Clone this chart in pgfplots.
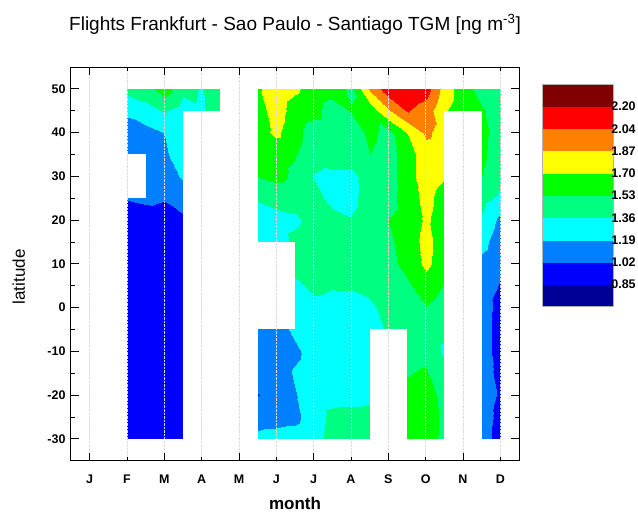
\documentclass[border=0pt]{standalone}
\usepackage{fontspec}
\setmainfont{Liberation Sans}
\usepackage{pgfplots}
\pgfplotsset{compat=1.18}
\pgfplotsset{colormap={tgm}{rgb255=(0,0,150) rgb255=(0,0,255) rgb255=(0,128,255) rgb255=(0,255,255) rgb255=(0,255,128) rgb255=(0,255,0) rgb255=(255,255,0) rgb255=(255,128,0) rgb255=(255,0,0) rgb255=(128,0,0)}}
\begin{document}
\begin{tikzpicture}
\useasboundingbox (-71bp,-52.3bp) rectangle (567bp,460.7bp);
\begin{axis}[
  at={(0,0)}, anchor=south west,
  scale only axis, width=448bp, height=393.7bp,
  xmin=0.5, xmax=12.5, ymin=-35, ymax=55,
  axis on top,
  colormap name=tgm, colormap access=piecewise constant,
  point meta min=0.68, point meta max=2.38,
  xtick={1,3,5,7,9,11}, xticklabels={J,M,M,J,S,N},
  extra x ticks={2,4,6,8,10,12}, extra x tick labels={F,A,J,A,O,D},
  extra x tick style={major tick length=4bp, xmajorgrids=true},
  xmajorgrids=true,
  ytick={-30,-20,-10,0,10,20,30,40,50},
  yticklabels={{-30},{-20},{-10},0,10,20,30,40,50},
  minor ytick={-25,-15,-5,5,15,25,35,45},
  tick align=inside,
  major tick length=8bp, minor tick length=4.5bp,
  tick style={black, line width=0.8bp},
  axis line style={black, line width=1bp},
  grid style={densely dotted, line width=0.5bp, black!14},
  tick label style={font=\bfseries\fontsize{12.5bp}{14bp}\selectfont},
  xticklabel style={yshift=-10.5bp},
  yticklabel style={xshift=-2bp},
  title={Flights Frankfurt - Sao Paulo - Santiago TGM [ng m\textsuperscript{-3}]},
  title style={at={(axis description cs:0.5,1.0774)}, anchor=base, inner sep=0pt, font=\fontsize{19bp}{22bp}\selectfont},
  xlabel={month},
  xlabel style={at={(axis description cs:0.5,-0.1240)}, anchor=base, inner sep=0pt, font=\bfseries\fontsize{17bp}{20bp}\selectfont},
  ylabel={latitude},
  ylabel style={at={(axis description cs:-0.1027,0.467)}, anchor=base, inner sep=0pt, font=\fontsize{17bp}{20bp}\selectfont},
  colorbar,
  colorbar style={
    at={(parent axis.north east)}, anchor=north west,
    xshift=14.3bp, yshift=-17.3bp,
    scale only axis, width=71bp, height=222.4bp,
    ytick={0.85,1.02,1.19,1.36,1.53,1.70,1.87,2.04,2.21},
    yticklabels={0.85,1.02,1.19,1.36,1.53,1.70,1.87,2.04,2.20},
    major tick length=0pt,
    axis line style={black!30, line width=0.5bp},
    yticklabel style={font=\bfseries\fontsize{12.5bp}{14bp}\selectfont, xshift=-5bp},
  },
]
\addplot[surf, shader=interp, mesh/cols=21, point meta=explicit] coordinates {
(2,-30) [0.93] (2.5,-30) [0.93] (3,-30) [0.93] (3.5,-30) [0.93] (4,-30) [1.00] (4.5,-30) [1.10] (5,-30) [1.10] (5.5,-30) [1.22] (6,-30) [1.24] (6.5,-30) [1.26] (7,-30) [1.30] (7.5,-30) [1.42] (8,-30) [1.44] (8.5,-30) [1.44] (9,-30) [1.50] (9.5,-30) [1.60] (10,-30) [1.58] (10.5,-30) [1.50] (11,-30) [1.30] (11.5,-30) [1.10] (12,-30) [0.95]

(2,-25) [0.93] (2.5,-25) [0.93] (3,-25) [0.93] (3.5,-25) [0.93] (4,-25) [1.00] (4.5,-25) [1.10] (5,-25) [1.10] (5.5,-25) [1.14] (6,-25) [1.14] (6.5,-25) [1.15] (7,-25) [1.28] (7.5,-25) [1.40] (8,-25) [1.42] (8.5,-25) [1.42] (9,-25) [1.50] (9.5,-25) [1.60] (10,-25) [1.60] (10.5,-25) [1.50] (11,-25) [1.30] (11.5,-25) [1.10] (12,-25) [0.97]

(2,-20) [0.93] (2.5,-20) [0.93] (3,-20) [0.93] (3.5,-20) [0.93] (4,-20) [1.00] (4.5,-20) [1.10] (5,-20) [1.10] (5.5,-20) [1.015] (6,-20) [1.10] (6.5,-20) [1.18] (7,-20) [1.28] (7.5,-20) [1.30] (8,-20) [1.30] (8.5,-20) [1.32] (9,-20) [1.50] (9.5,-20) [1.58] (10,-20) [1.60] (10.5,-20) [1.48] (11,-20) [1.30] (11.5,-20) [1.10] (12,-20) [1.00]

(2,-15) [0.93] (2.5,-15) [0.93] (3,-15) [0.93] (3.5,-15) [0.93] (4,-15) [1.00] (4.5,-15) [1.10] (5,-15) [1.10] (5.5,-15) [1.08] (6,-15) [1.10] (6.5,-15) [1.21] (7,-15) [1.28] (7.5,-15) [1.28] (8,-15) [1.28] (8.5,-15) [1.28] (9,-15) [1.45] (9.5,-15) [1.52] (10,-15) [1.55] (10.5,-15) [1.40] (11,-15) [1.30] (11.5,-15) [1.10] (12,-15) [0.97]

(2,-10) [0.93] (2.5,-10) [0.93] (3,-10) [0.93] (3.5,-10) [0.93] (4,-10) [1.00] (4.5,-10) [1.10] (5,-10) [1.10] (5.5,-10) [1.10] (6,-10) [1.10] (6.5,-10) [1.15] (7,-10) [1.28] (7.5,-10) [1.28] (8,-10) [1.28] (8.5,-10) [1.28] (9,-10) [1.40] (9.5,-10) [1.47] (10,-10) [1.48] (10.5,-10) [1.33] (11,-10) [1.30] (11.5,-10) [1.10] (12,-10) [0.95]

(2,-5) [0.93] (2.5,-5) [0.93] (3,-5) [0.93] (3.5,-5) [0.93] (4,-5) [1.00] (4.5,-5) [1.10] (5,-5) [1.10] (5.5,-5) [1.10] (6,-5) [1.10] (6.5,-5) [1.24] (7,-5) [1.28] (7.5,-5) [1.28] (8,-5) [1.28] (8.5,-5) [1.30] (9,-5) [1.38] (9.5,-5) [1.45] (10,-5) [1.45] (10.5,-5) [1.40] (11,-5) [1.30] (11.5,-5) [1.10] (12,-5) [0.95]

(2,0) [0.93] (2.5,0) [0.93] (3,0) [0.93] (3.5,0) [0.93] (4,0) [1.00] (4.5,0) [1.20] (5,0) [1.20] (5.5,0) [1.20] (6,0) [1.25] (6.5,0) [1.28] (7,0) [1.31] (7.5,0) [1.30] (8,0) [1.32] (8.5,0) [1.33] (9,0) [1.42] (9.5,0) [1.46] (10,0) [1.52] (10.5,0) [1.45] (11,0) [1.30] (11.5,0) [1.10] (12,0) [0.96]

(2,5) [0.93] (2.5,5) [0.93] (3,5) [0.93] (3.5,5) [0.93] (4,5) [1.00] (4.5,5) [1.20] (5,5) [1.20] (5.5,5) [1.25] (6,5) [1.30] (6.5,5) [1.32] (7,5) [1.40] (7.5,5) [1.37] (8,5) [1.37] (8.5,5) [1.40] (9,5) [1.45] (9.5,5) [1.50] (10,5) [1.62] (10.5,5) [1.52] (11,5) [1.40] (11.5,5) [1.10] (12,5) [1.01]

(2,10) [0.93] (2.5,10) [0.93] (3,10) [0.93] (3.5,10) [0.94] (4,10) [1.00] (4.5,10) [1.30] (5,10) [1.30] (5.5,10) [1.25] (6,10) [1.30] (6.5,10) [1.42] (7,10) [1.45] (7.5,10) [1.46] (8,10) [1.45] (8.5,10) [1.45] (9,10) [1.48] (9.5,10) [1.58] (10,10) [1.74] (10.5,10) [1.60] (11,10) [1.50] (11.5,10) [1.14] (12,10) [1.05]

(2,15) [0.93] (2.5,15) [0.93] (3,15) [0.93] (3.5,15) [0.95] (4,15) [1.00] (4.5,15) [1.30] (5,15) [1.30] (5.5,15) [1.25] (6,15) [1.27] (6.5,15) [1.40] (7,15) [1.45] (7.5,15) [1.45] (8,15) [1.45] (8.5,15) [1.46] (9,15) [1.50] (9.5,15) [1.60] (10,15) [1.76] (10.5,15) [1.60] (11,15) [1.50] (11.5,15) [1.25] (12,15) [1.08]

(2,20) [0.95] (2.5,20) [0.95] (3,20) [0.96] (3.5,20) [0.99] (4,20) [1.00] (4.5,20) [1.30] (5,20) [1.40] (5.5,20) [1.26] (6,20) [1.30] (6.5,20) [1.33] (7,20) [1.42] (7.5,20) [1.42] (8,20) [1.37] (8.5,20) [1.46] (9,20) [1.53] (9.5,20) [1.58] (10,20) [1.73] (10.5,20) [1.60] (11,20) [1.50] (11.5,20) [1.34] (12,20) [1.15]

(2,25) [1.03] (2.5,25) [1.05] (3,25) [1.03] (3.5,25) [1.10] (4,25) [1.20] (4.5,25) [1.40] (5,25) [1.50] (5.5,25) [1.38] (6,25) [1.42] (6.5,25) [1.42] (7,25) [1.42] (7.5,25) [1.31] (8,25) [1.31] (8.5,25) [1.45] (9,25) [1.48] (9.5,25) [1.60] (10,25) [1.76] (10.5,25) [1.62] (11,25) [1.55] (11.5,25) [1.42] (12,25) [1.33]

(2,30) [1.08] (2.5,30) [1.10] (3,30) [1.12] (3.5,30) [1.21] (4,30) [1.25] (4.5,30) [1.40] (5,30) [1.50] (5.5,30) [1.54] (6,30) [1.58] (6.5,30) [1.50] (7,30) [1.35] (7.5,30) [1.30] (8,30) [1.30] (8.5,30) [1.47] (9,30) [1.46] (9.5,30) [1.62] (10,30) [1.80] (10.5,30) [1.72] (11,30) [1.55] (11.5,30) [1.53] (12,30) [1.40]

(2,35) [1.10] (2.5,35) [1.10] (3,35) [1.17] (3.5,35) [1.26] (4,35) [1.28] (4.5,35) [1.40] (5,35) [1.50] (5.5,35) [1.60] (6,35) [1.58] (6.5,35) [1.54] (7,35) [1.45] (7.5,35) [1.50] (8,35) [1.48] (8.5,35) [1.53] (9,35) [1.46] (9.5,35) [1.62] (10,35) [1.80] (10.5,35) [1.78] (11,35) [1.55] (11.5,35) [1.57] (12,35) [1.42]

(2,40) [1.12] (2.5,40) [1.13] (3,40) [1.19] (3.5,40) [1.28] (4,40) [1.30] (4.5,40) [1.45] (5,40) [1.50] (5.5,40) [1.62] (6,40) [1.74] (6.5,40) [1.58] (7,40) [1.45] (7.5,40) [1.45] (8,40) [1.44] (8.5,40) [1.57] (9,40) [1.47] (9.5,40) [1.70] (10,40) [1.90] (10.5,40) [1.80] (11,40) [1.55] (11.5,40) [1.58] (12,40) [1.45]

(2,45) [1.22] (2.5,45) [1.30] (3,45) [1.37] (3.5,45) [1.28] (4,45) [1.34] (4.5,45) [1.45] (5,45) [1.50] (5.5,45) [1.62] (6,45) [1.79] (6.5,45) [1.62] (7,45) [1.58] (7.5,45) [1.45] (8,45) [1.54] (8.5,45) [1.60] (9,45) [1.84] (9.5,45) [2.05] (10,45) [1.96] (10.5,45) [1.72] (11,45) [1.60] (11.5,45) [1.55] (12,45) [1.45]

(2,50) [1.41] (2.5,50) [1.45] (3,50) [1.62] (3.5,50) [1.40] (4,50) [1.35] (4.5,50) [1.45] (5,50) [1.50] (5.5,50) [1.68] (6,50) [1.80] (6.5,50) [1.73] (7,50) [1.62] (7.5,50) [1.60] (8,50) [1.50] (8.5,50) [1.90] (9,50) [2.15] (9.5,50) [2.18] (10,50) [2.12] (10.5,50) [1.80] (11,50) [1.60] (11.5,50) [1.46] (12,50) [1.44]
};
% regions without data
\addplot[fill=white, draw=none] coordinates {(2,25) (2.5,25) (2.5,35) (2,35)} --cycle;
\addplot[fill=white, draw=none] coordinates {(3.5,-30.5) (4.5,-30.5) (4.5,45) (3.5,45)} --cycle;
\addplot[fill=white, draw=none] coordinates {(4.5,-30.5) (5.5,-30.5) (5.5,50.5) (4.5,50.5)} --cycle;
\addplot[fill=white, draw=none] coordinates {(5.5,-5) (6.5,-5) (6.5,15) (5.5,15)} --cycle;
\addplot[fill=white, draw=none] coordinates {(8.5,-30.5) (9.5,-30.5) (9.5,-5) (8.5,-5)} --cycle;
\addplot[fill=white, draw=none] coordinates {(10.5,-30.5) (11.5,-30.5) (11.5,45) (10.5,45)} --cycle;
\end{axis}
\end{tikzpicture}
\end{document}
